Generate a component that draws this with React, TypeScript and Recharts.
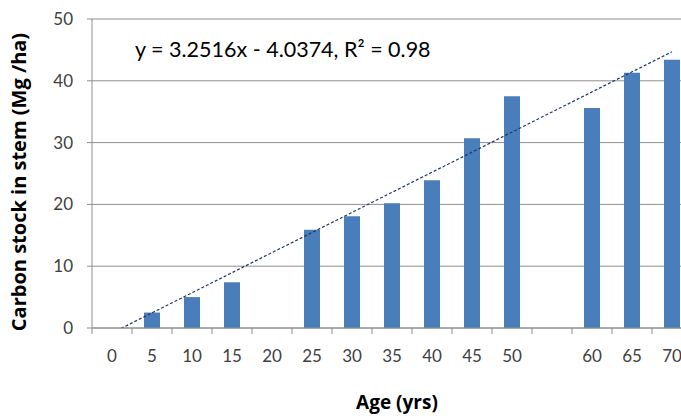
import { Bar, CartesianGrid, ComposedChart, Customized, Line, XAxis, YAxis } from 'recharts'

const ages = ['0', '5', '10', '15', '20', '25', '30', '35', '40', '45', '50', '', '60', '65', '70']
const carbonStock: (number | null)[] = [null, 2.5, 5.0, 7.4, null, 15.9, 18.1, 20.2, 23.9, 30.7, 37.5, null, 35.6, 41.3, 43.4]
// linear trendline: only its two ends (start falls below the axis and is clipped)
const trend: (number | null)[] = [-0.8, null, null, null, null, null, null, null, null, null, null, null, null, null, 44.7]
const yTicks = [0, 10, 20, 30, 40, 50]
const equation = 'y = 3.2516x - 4.0374, R² = 0.98'

const data = ages.map((age, i) => ({ age, value: carbonStock[i], trend: trend[i] }))

const FONT = 'Lato, "Open Sans", sans-serif'
const BOLD_FONT = '"Open Sans", Lato, sans-serif'
const GRID = '#8e8e8e'
const HALF_BAND = 20

function AgeTick(props: any) {
  const { x, y, payload } = props
  return (
    <g>
      <line x1={x - HALF_BAND} y1={y} x2={x - HALF_BAND} y2={y + 6} stroke={GRID} />
      <text x={x} y={y + 34} textAnchor="middle" fontSize={17} fill="#404040" fontFamily={FONT}>
        {payload.value}
      </text>
    </g>
  )
}

export default function App() {
  return (
    <div style={{ position: 'fixed', left: 0, top: 0, width: 681, height: 416, overflow: 'hidden', background: '#fff' }}>
      <ComposedChart width={700} height={416} data={data} margin={{ top: 19, right: 8, bottom: 0, left: 0 }}>
        <CartesianGrid vertical={false} stroke={GRID} />
        <XAxis
          dataKey="age"
          height={88}
          tickSize={0}
          tickMargin={0}
          tickLine={false}
          interval={0}
          stroke={GRID}
          tick={<AgeTick />}
          label={{
            content: () => (
              <text x={397} y={409} textAnchor="middle" fontSize={19} fontWeight="bold" fill="#000" fontFamily={BOLD_FONT}>
                Age (yrs)
              </text>
            ),
          }}
        />
        <YAxis
          width={92}
          domain={[0, 50]}
          allowDataOverflow
          ticks={yTicks}
          tickSize={5}
          tickMargin={14}
          stroke={GRID}
          tick={{ fontSize: 17, fill: '#404040', fontFamily: FONT }}
          label={{
            content: () => (
              <text
                transform="translate(26,182) rotate(-90)"
                textAnchor="middle"
                fontSize={20}
                fontWeight="bold"
                fill="#000"
                fontFamily={BOLD_FONT}
              >
                Carbon stock in stem (Mg /ha)
              </text>
            ),
          }}
        />
        <Bar dataKey="value" fill="#4a7ebb" barSize={16} isAnimationActive={false} />
        <Line
          dataKey="trend"
          connectNulls
          dot={false}
          activeDot={false}
          stroke="#1f3864"
          strokeWidth={1.2}
          strokeDasharray="3 2"
          isAnimationActive={false}
        />
        <Customized
          component={() => (
            <text x={135} y={57} fontSize={21.5} fill="#000" fontFamily={FONT}>
              {equation}
            </text>
          )}
        />
      </ComposedChart>
    </div>
  )
}
